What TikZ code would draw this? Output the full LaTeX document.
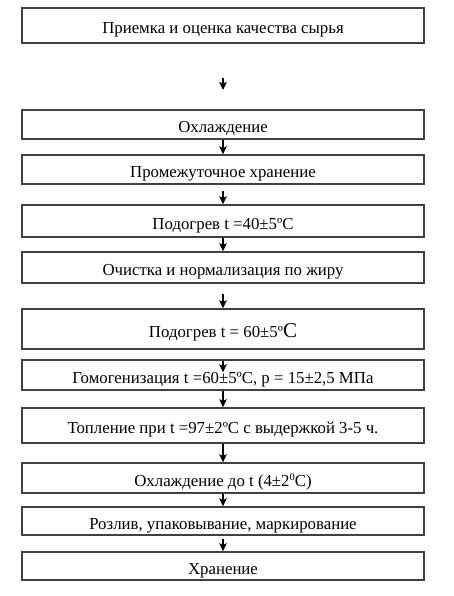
\documentclass[tikz,border=0pt]{standalone}
\usepackage{fontspec}
\setmainfont{Liberation Serif}
\usetikzlibrary{arrows.meta}
\begin{document}
\begin{tikzpicture}[x=1pt, y=-1pt,
    stage/.style={draw=black!75, line width=1.4pt, minimum width=402pt, inner sep=0pt,
                  text height=16pt, text depth=0pt, font=\fontsize{16.8}{20}\selectfont},
    flow/.style={draw=black, line width=1.2pt, -{Stealth[length=8pt, width=7.5pt, inset=1.5pt]}}]
    \useasboundingbox (0,0) rectangle (453,596);
    % center line of the scheme
    \def\Cx{223}
    \node[stage, minimum height=35pt] (s1) at (\Cx, 25.5) {Приемка и оценка качества сырья};
    \node[stage, minimum height=29pt] (s2) at (\Cx, 124.5) {Охлаждение};
    \node[stage, minimum height=29pt] (s3) at (\Cx, 169.5) {Промежуточное хранение};
    \node[stage, minimum height=32pt] (s4) at (\Cx, 221) {Подогрев t =40±5ºC};
    \node[stage, minimum height=31pt] (s5) at (\Cx, 267.5) {Очистка и нормализация по жиру};
    \node[stage, minimum height=40pt] (s6) at (\Cx, 329) {Подогрев t = 60±5º{\fontsize{21}{22}\selectfont C}};
    \node[stage, minimum height=30pt] (s7) at (\Cx, 375) {Гомогенизация t =60±5ºC, p = 15±2,5 МПа};
    \node[stage, minimum height=35pt] (s8) at (\Cx, 425.5) {Топление при t =97±2ºC с выдержкой 3-5 ч.};
    \node[stage, minimum height=30pt] (s9) at (\Cx, 478) {Охлаждение до t (4±2\raisebox{5.5pt}{\fontsize{10.5}{11}\selectfont 0}C)};
    \node[stage, minimum height=28pt] (s10) at (\Cx, 521) {Розлив, упаковывание, маркирование};
    \node[stage, minimum height=28pt] (s11) at (\Cx, 566) {Хранение};
    % arrows
    \coordinate (a1) at (\Cx, 78);
    \coordinate (b1) at (\Cx, 90);
    \draw[flow] (a1) -- (b1);
    \draw[flow] (s2.south) -- (s3.north);
    \draw[flow, shorten <=6pt] (s3.south) -- (s4.north);
    \draw[flow] (s4.south) -- (s5.north);
    \draw[flow, shorten <=10pt] (s5.south) -- (s6.north);
    \draw[flow, shorten <=11pt, shorten >=-13pt] (s6.south) -- (s7.north);
    \draw[flow] (s7.south) -- (s8.north);
    \draw[flow] (s8.south) -- (s9.north);
    \draw[flow] (s9.south) -- (s10.north);
    \draw[flow, shorten <=3pt] (s10.south) -- (s11.north);
\end{tikzpicture}
\end{document}
